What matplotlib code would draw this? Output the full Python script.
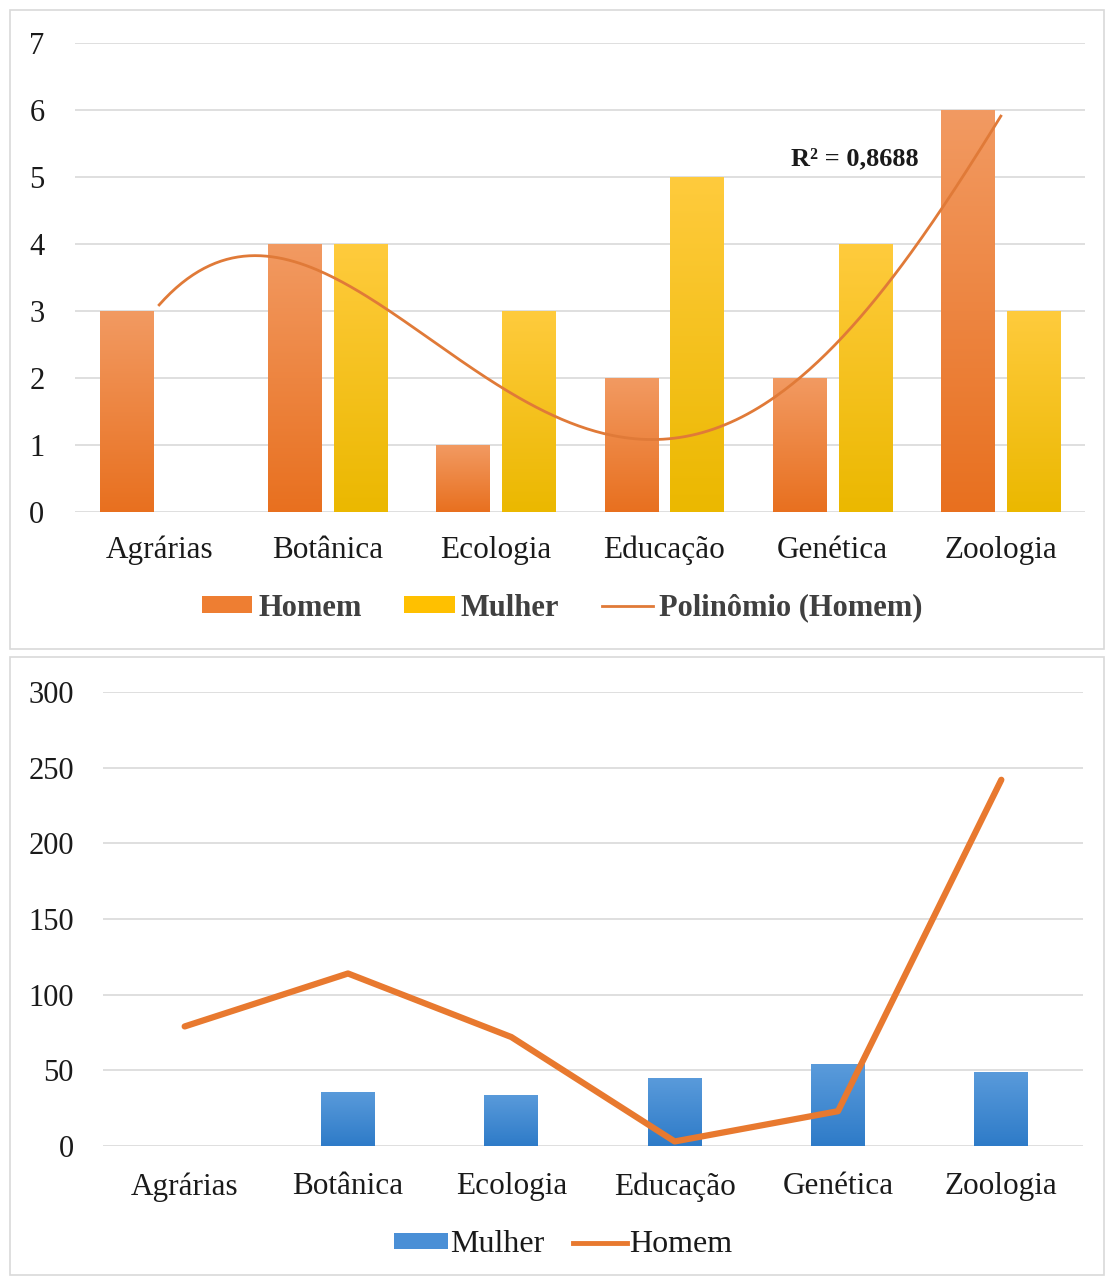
import numpy as np
import matplotlib
matplotlib.use("Agg")
import matplotlib.pyplot as plt
from matplotlib.patches import Rectangle, Patch
from matplotlib.lines import Line2D
from matplotlib.colors import LinearSegmentedColormap

categories = ["Agrárias", "Botânica", "Ecologia", "Educação", "Genética", "Zoologia"]
homem_top = [3, 4, 1, 2, 2, 6]
mulher_top = [0, 4, 3, 5, 4, 3]
mulher_bottom = [0, 36, 34, 45, 54, 49]
homem_bottom = [79, 114, 72, 3, 23, 242]
r2_label = "R² = 0,8688"
trend_order = 4
top_yticks = [0, 1, 2, 3, 4, 5, 6, 7]
bottom_yticks = [0, 50, 100, 150, 200, 250, 300]

plt.rcParams['font.family'] = ['Liberation Serif', 'DejaVu Serif']

W, H = 1107, 1277
fig = plt.figure(figsize=(W / 100, H / 100), dpi=100)

def px_axes(left, top, right, bottom):
    return fig.add_axes([left / W, 1 - bottom / H, (right - left) / W, (bottom - top) / H])

# panel borders
for (x0, y0, x1, y1) in [(10, 10, 1104, 649), (10, 657, 1104, 1275)]:
    fig.patches.append(Rectangle((x0 / W, 1 - y1 / H), (x1 - x0) / W, (y1 - y0) / H,
                                 transform=fig.transFigure, fill=False,
                                 edgecolor="#D9D9D9", linewidth=1.2))

grid_c = "#D9D9D9"
txt_c = "#1a1a1a"

def grad_bars(ax, xs, vals, width, top_c, bot_c):
    cmap = LinearSegmentedColormap.from_list("g", [bot_c, top_c])
    bars = ax.bar(xs, vals, width=width, color=top_c, zorder=2, linewidth=0)
    grad = np.linspace(0, 1, 256).reshape(-1, 1)
    for b in bars:
        h = b.get_height()
        if h <= 0:
            continue
        x0 = b.get_x()
        im = ax.imshow(grad, extent=[x0, x0 + b.get_width(), 0, h], origin="lower",
                       aspect="auto", cmap=cmap, zorder=2.1)
        im.set_clip_path(b)
    return bars

# ---------------- top chart ----------------
ax1 = px_axes(75, 43, 1085, 512)
x = np.arange(len(categories))
bw = 0.315
off = 0.195
grad_bars(ax1, x - off, homem_top, bw, "#F29A62", "#E8701F")
grad_bars(ax1, x + off, mulher_top, bw, "#FFCB3D", "#EBB800")

coef = np.polyfit(x, homem_top, trend_order)
xs = np.linspace(0, 5, 300)
ax1.plot(xs, np.polyval(coef, xs), color="#E07A38", linewidth=2, zorder=3)

ax1.set_xlim(-0.5, 5.5)
ax1.set_ylim(0, 7)
ax1.set_yticks(top_yticks)
ax1.set_xticks(x)
ax1.set_xticklabels(categories)
ax1.grid(axis="y", color=grid_c, linewidth=1.2, zorder=0)
ax1.set_axisbelow(True)
for s in ax1.spines.values():
    s.set_visible(False)
ax1.tick_params(axis="y", length=0, labelsize=22, colors=txt_c, pad=22)
ax1.tick_params(axis="x", length=0, labelsize=22.5, colors=txt_c, pad=17)
ax1.text(4.13, 5.27, r2_label, fontsize=19, fontweight="bold", color=txt_c,
         ha="center", va="center", zorder=4)

handles1 = [Patch(facecolor="#EE7E32", edgecolor="none"),
            Patch(facecolor="#FFC000", edgecolor="none"),
            Line2D([0], [0], color="#E07A38", linewidth=2)]
leg1 = fig.legend(handles1, ["Homem", "Mulher", "Polinômio (Homem)"],
                  loc="center", bbox_to_anchor=(562 / W, 1 - 608 / H), ncol=3,
                  frameon=False, handlelength=1.65, handleheight=0.45, handletextpad=0.2,
                  columnspacing=1.4, prop={"size": 22, "weight": "bold"})
for t in leg1.get_texts():
    t.set_color("#404040")

# ---------------- bottom chart ----------------
ax2 = px_axes(103, 692, 1083, 1146)
cmap_b = LinearSegmentedColormap.from_list("b", ["#2E7BC8", "#5A9BDB"])
bars = ax2.bar(x, mulher_bottom, width=0.33, color="#4A8FD6", zorder=2, linewidth=0)
grad = np.linspace(0, 1, 256).reshape(-1, 1)
for b in bars:
    h = b.get_height()
    if h <= 0:
        continue
    im = ax2.imshow(grad, extent=[b.get_x(), b.get_x() + b.get_width(), 0, h],
                    origin="lower", aspect="auto", cmap=cmap_b, zorder=2.1)
    im.set_clip_path(b)
ax2.plot(x, homem_bottom, color="#E8792F", linewidth=4.5, zorder=3,
         solid_capstyle="round", solid_joinstyle="round")
ax2.set_xlim(-0.5, 5.5)
ax2.set_ylim(0, 300)
ax2.set_yticks(bottom_yticks)
ax2.set_xticks(x)
ax2.set_xticklabels(categories)
ax2.grid(axis="y", color=grid_c, linewidth=1.2, zorder=0)
ax2.set_axisbelow(True)
for s in ax2.spines.values():
    s.set_visible(False)
ax2.tick_params(axis="y", length=0, labelsize=22, colors=txt_c, pad=21)
ax2.tick_params(axis="x", length=0, labelsize=22.5, colors=txt_c, pad=19)

handles2 = [Patch(facecolor="#4A8FD6", edgecolor="none"),
            Line2D([0], [0], color="#E8792F", linewidth=3.5)]
leg2 = fig.legend(handles2, ["Mulher", "Homem"], loc="center",
                  bbox_to_anchor=(563 / W, 1 - 1245 / H), ncol=2, frameon=False,
                  handlelength=1.7, handleheight=0.4, handletextpad=0.05,
                  columnspacing=0.9, prop={"size": 23})
for t in leg2.get_texts():
    t.set_color(txt_c)

fig.savefig("out.png", dpi=100)
